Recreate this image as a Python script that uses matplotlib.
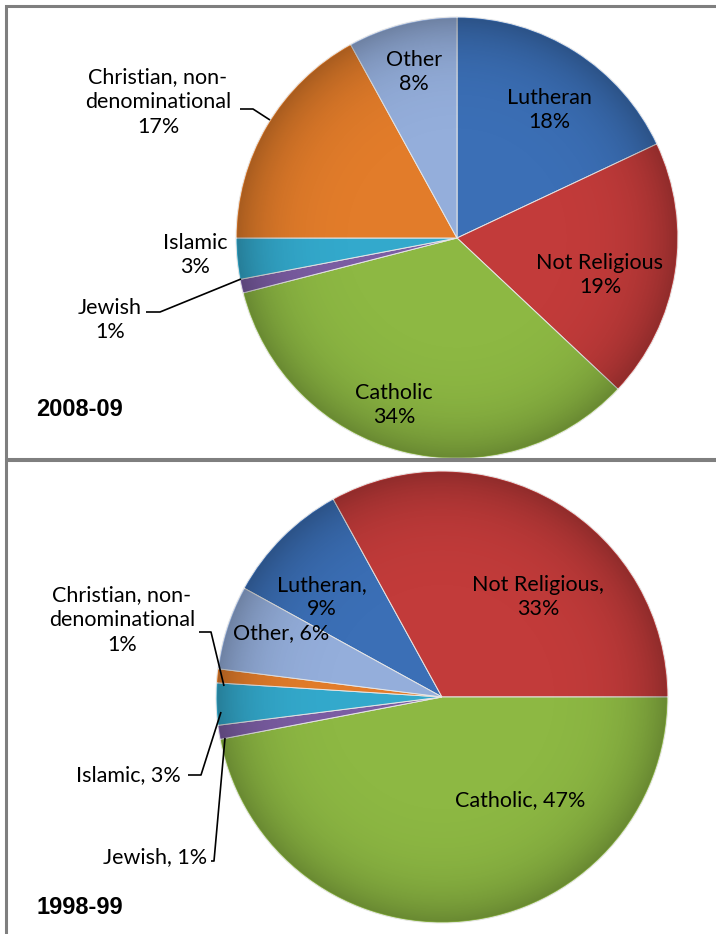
import numpy as np
import matplotlib
matplotlib.use("Agg")
import matplotlib.pyplot as plt
from matplotlib.patches import Rectangle, Circle

W, H = 716, 934

categories = ["Lutheran", "Not Religious", "Catholic", "Jewish", "Islamic",
              "Christian, non-denominational", "Other"]
shares_2008 = [18, 19, 34, 1, 3, 17, 8]
shares_1998 = [9, 33, 47, 1, 3, 1, 6]
period_labels = ["2008-09", "1998-99"]

colors = ["#3B6FB6", "#C23B3A", "#8DB843", "#7B5DA3", "#33A9CC", "#E27C2A", "#94AEDB"]

plt.rcParams["font.family"] = ["Lato", "DejaVu Sans"]

fig = plt.figure(figsize=(W / 100, H / 100), dpi=100)
ax = fig.add_axes([0, 0, 1, 1])


def Y(y):
    return H - y


def draw_pie(values, cx, cy, r, start, explode):
    wedges, _ = ax.pie(values, colors=colors, startangle=start, counterclock=False,
                       center=(cx, Y(cy)), radius=r, explode=explode,
                       wedgeprops=dict(edgecolor="#e6e6e6", linewidth=0.7))
    # darker rim shading over the pie
    n = 400
    xs = np.linspace(-1, 1, n)
    xx, yy = np.meshgrid(xs, xs)
    rr = np.sqrt(xx ** 2 + yy ** 2)
    shade = np.zeros((n, n, 4))
    shade[..., 3] = np.clip(0.26 * rr ** 6, 0, 0.26)
    im = ax.imshow(shade, extent=(cx - r, cx + r, Y(cy) - r, Y(cy) + r),
                   zorder=3, interpolation="bilinear")
    clip = Circle((cx, Y(cy)), r * 0.995, transform=ax.transData)
    im.set_clip_path(clip)
    return wedges


# top panel: 2008-09
draw_pie(shares_2008, 457, 238, 221, 90, [0, 0, 0, 0.02, 0.02, 0, 0])
# bottom panel: 1998-99
draw_pie(shares_1998, 442, 697, 226, 151.2, [0, 0, 0, 0.03, 0.03, 0.03, 0])

ax.set_xlim(0, W)
ax.set_ylim(0, H)
ax.set_aspect("auto")
ax.axis("off")

fs = 15.5
kw = dict(fontsize=fs, ha="center", va="center", zorder=5, linespacing=1.3)

# labels, 2008-09
ax.text(549, Y(110), f"Lutheran\n{shares_2008[0]}%", **kw)
ax.text(600, Y(275), f"Not Religious\n{shares_2008[1]}%", **kw)
ax.text(394, Y(405), f"Catholic\n{shares_2008[2]}%", **kw)
ax.text(110, Y(320), f"Jewish\n{shares_2008[3]}%", **kw)
ax.text(195, Y(255), f"Islamic\n{shares_2008[4]}%", **kw)
ax.text(158, Y(102), f"Christian, non-\ndenominational\n{shares_2008[5]}%", **kw)
ax.text(414, Y(72), f"Other\n{shares_2008[6]}%", **kw)

# labels, 1998-99
ax.text(322, Y(597), f"Lutheran,\n{shares_1998[0]}%", **kw)
ax.text(538, Y(597), f"Not Religious,\n{shares_1998[1]}%", **kw)
ax.text(520, Y(800), f"Catholic, {shares_1998[2]}%", **kw)
ax.text(155, Y(857), f"Jewish, {shares_1998[3]}%", **kw)
ax.text(128, Y(775), f"Islamic, {shares_1998[4]}%", **kw)
ax.text(122, Y(620), f"Christian, non-\ndenominational\n{shares_1998[5]}%", **kw)
ax.text(281, Y(633), f"Other, {shares_1998[6]}%", **kw)

# leader lines
leaders = [
    [(240, 109), (253, 109), (270, 120)],
    [(146, 312), (160, 312), (241, 279)],
    [(199, 632), (211, 632), (224, 686)],
    [(188, 775), (201, 775), (221, 712)],
    [(211, 861), (214, 861), (225, 738)],
]
for pts in leaders:
    px = [p[0] for p in pts]
    py = [Y(p[1]) for p in pts]
    ax.plot(px, py, color="black", lw=1.2, zorder=6, solid_capstyle="butt")

# panel titles
for label, ty in zip(period_labels, (410, 907)):
    ax.text(36, Y(ty), label, fontsize=17, fontweight="bold",
            family="Liberation Sans", ha="left", va="center", zorder=6)

# panel frames
ax.add_patch(Rectangle((6, Y(459)), 720, 453, fill=False, edgecolor="#7f7f7f", lw=2.2, zorder=7))
ax.add_patch(Rectangle((6, Y(940)), 720, 480, fill=False, edgecolor="#7f7f7f", lw=2.2, zorder=7))
ax.add_patch(Rectangle((0, Y(462)), W, 4, color="white", zorder=6.5))

fig.savefig("out.png", dpi=100, facecolor="white")
